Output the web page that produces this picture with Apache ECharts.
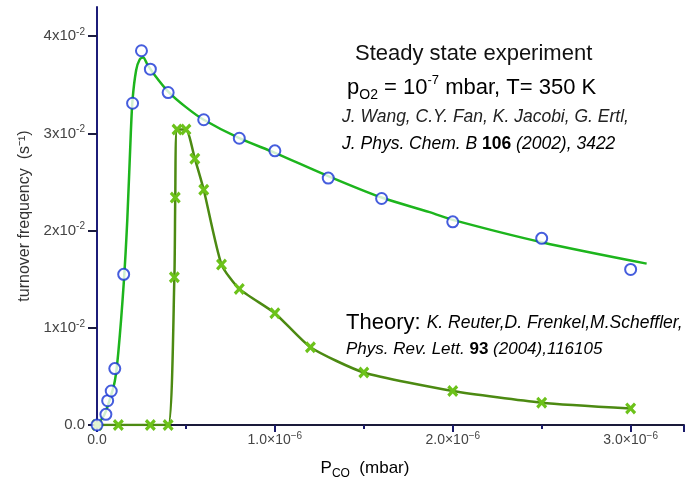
<!DOCTYPE html>
<html>
<head>
<meta charset="utf-8">
<script src="https://cdn.jsdelivr.net/npm/echarts@6/dist/echarts.min.js"></script>
<style>html,body{margin:0;padding:0;background:#fff}#c{width:689px;height:486px}</style>
</head>
<body>
<div id="c"></div>
<script>
// Experiment data points (P_CO in mbar, TOF in s^-1)
const expX = [0, 0.05e-6, 0.06e-6, 0.08e-6, 0.1e-6, 0.15e-6, 0.2e-6, 0.25e-6, 0.3e-6, 0.4e-6, 0.6e-6, 0.8e-6, 1.0e-6, 1.3e-6, 1.6e-6, 2.0e-6, 2.5e-6, 3.0e-6];
const expY = [0, 0.0011, 0.0025, 0.0035, 0.0058, 0.0155, 0.0331, 0.0385, 0.0366, 0.0342, 0.0314, 0.0295, 0.0282, 0.0254, 0.0233, 0.0209, 0.0192, 0.0160];
// Fit curve through experiment
const fitX = [0, 0.04e-6, 0.07e-6, 0.1e-6, 0.12e-6, 0.15e-6, 0.17e-6, 0.19e-6, 0.2e-6, 0.22e-6, 0.24e-6, 0.26e-6, 0.28e-6, 0.32e-6, 0.4e-6, 0.5e-6, 0.6e-6, 0.8e-6, 1.0e-6, 1.3e-6, 1.6e-6, 1.87e-6, 2.0e-6, 2.5e-6, 3.09e-6];
const fitY = [0, 0.001, 0.0025, 0.0045, 0.0075, 0.0145, 0.021, 0.030, 0.0335, 0.0365, 0.0376, 0.0378, 0.0372, 0.0361, 0.0343, 0.0327, 0.0314, 0.0295, 0.0280, 0.0256, 0.0234, 0.0219, 0.0211, 0.0188, 0.0166];
// Theory (kMC) points
const thX = [0, 0.12e-6, 0.3e-6, 0.4e-6, 0.435e-6, 0.44e-6, 0.45e-6, 0.5e-6, 0.55e-6, 0.6e-6, 0.7e-6, 0.8e-6, 1.0e-6, 1.2e-6, 1.5e-6, 2.0e-6, 2.5e-6, 3.0e-6];
const thY = [0, 0, 0, 0, 0.0152, 0.0234, 0.0304, 0.0304, 0.0274, 0.0242, 0.0165, 0.0140, 0.0115, 0.0080, 0.0054, 0.0035, 0.0023, 0.0017];
// Tick labels
const yTickLabels = {0: '0.0', 1: '1x10', 2: '2x10', 3: '3x10', 4: '4x10'};
const xTickLabels = {0: '0.0', 1: '1.0×10', 2: '2.0×10', 3: '3.0×10'};

const FONT = '"Liberation Sans", Arial, Helvetica, sans-serif';
const zip = (a, b) => a.map((v, i) => [v, b[i]]);
const XSYM = 'path://M0,2 L2,0 L5,3 L8,0 L10,2 L7,5 L10,8 L8,10 L5,7 L2,10 L0,8 L3,5 Z';

const chart = echarts.init(document.getElementById('c'), null, {renderer: 'canvas'});
chart.setOption({
  animation: false,
  backgroundColor: '#fff',
  grid: {left: 97, right: 5, top: 7, bottom: 61, containLabel: false},
  xAxis: {
    type: 'value', min: 0, max: 3.3e-6, interval: 1e-6,
    axisLine: {show: true, onZero: false, lineStyle: {color: '#1a1a3a', width: 2}},
    axisTick: {show: true, inside: false, length: 7, lineStyle: {color: '#1a1a6a', width: 2}},
    minorTick: {show: true, splitNumber: 2, length: 4, lineStyle: {color: '#1a1a6a', width: 2}},
    splitLine: {show: false},
    axisLabel: {
      showMaxLabel: false, margin: 6, fontFamily: FONT, fontSize: 14, color: '#444',
      formatter: v => {
        const k = Math.round(v / 1e-6);
        if (k === 0) return '{a|0.0}';
        return '{a|' + xTickLabels[k] + '}{s|−6}';
      },
      rich: {
        a: {fontFamily: FONT, fontSize: 14, color: '#444', lineHeight: 18, verticalAlign: 'middle'},
        s: {fontFamily: FONT, fontSize: 10, color: '#444', lineHeight: 11, verticalAlign: 'top'}
      }
    }
  },
  yAxis: {
    type: 'value', min: 0, max: 0.043, interval: 0.01,
    axisLine: {show: true, lineStyle: {color: '#1c1c78', width: 2}},
    axisTick: {show: true, inside: false, length: 9, lineStyle: {color: '#1c1c40', width: 2}},
    splitLine: {show: false},
    name: 'turnover frequency  (s⁻¹)', nameLocation: 'middle', nameGap: 64, nameRotate: 90,
    nameTextStyle: {fontFamily: FONT, fontSize: 16, color: '#333'},
    axisLabel: {
      showMaxLabel: false, margin: 12, fontFamily: FONT, fontSize: 15, color: '#444',
      formatter: v => {
        const k = Math.round(v * 100);
        if (k === 0) return '{a|0.0}';
        return '{a|' + yTickLabels[k] + '}{s|-2}';
      },
      rich: {
        a: {fontFamily: FONT, fontSize: 15, color: '#444', lineHeight: 18, verticalAlign: 'middle'},
        s: {fontFamily: FONT, fontSize: 10, color: '#444', lineHeight: 11, verticalAlign: 'top'}
      }
    }
  },
  series: [
    {
      name: 'fit', type: 'line', data: zip(fitX, fitY), smooth: 0.3,
      showSymbol: false, symbol: 'none', lineStyle: {color: '#1db51d', width: 2.5}, z: 2
    },
    {
      name: 'theory', type: 'line', data: zip(thX, thY), smooth: 0.2,
      symbol: XSYM, symbolSize: [11, 12], showAllSymbol: true,
      lineStyle: {color: '#4c8a12', width: 2.5},
      itemStyle: {color: '#6cc21a'}, z: 3
    },
    {
      name: 'experiment', type: 'scatter', data: zip(expX, expY),
      symbol: 'circle', symbolSize: 11,
      itemStyle: {color: '#ffffff', borderColor: '#1634d4', borderWidth: 2}, z: 4
    }
  ],
  graphic: [
    {type: 'text', x: 355, y: 54, style: {text: 'Steady state experiment', font: '22px ' + FONT, fill: '#111', textVerticalAlign: 'middle'}},
    {type: 'text', x: 347, y: 88, style: {
      text: '{a|p}{b|O2}{a| = 10}{c|-7}{a| mbar, T= 350 K}', textVerticalAlign: 'middle',
      rich: {
        a: {fontFamily: FONT, fontSize: 22, color: '#111', lineHeight: 28, verticalAlign: 'middle'},
        b: {fontFamily: FONT, fontSize: 14, color: '#111', lineHeight: 14, verticalAlign: 'bottom'},
        c: {fontFamily: FONT, fontSize: 13, color: '#111', lineHeight: 14, verticalAlign: 'top'}
      }
    }},
    {type: 'text', x: 342, y: 117, style: {text: 'J. Wang, C.Y. Fan, K. Jacobi, G. Ertl,', font: 'italic 17.5px ' + FONT, fill: '#222', textVerticalAlign: 'middle'}},
    {type: 'text', x: 342, y: 144, style: {
      text: '{i|J. Phys. Chem. B }{b|106}{i| (2002), 3422}', textVerticalAlign: 'middle',
      rich: {
        i: {fontFamily: FONT, fontStyle: 'italic', fontSize: 17.5, color: '#222'},
        b: {fontFamily: FONT, fontWeight: 'bold', fontSize: 17.5, color: '#222'}
      }
    }},
    {type: 'text', x: 346, y: 323, style: {
      text: '{t|Theory: }{i|K. Reuter,D. Frenkel,M.Scheffler,}', textVerticalAlign: 'middle',
      rich: {
        t: {fontFamily: FONT, fontSize: 22, color: '#111', lineHeight: 26},
        i: {fontFamily: FONT, fontStyle: 'italic', fontSize: 17.5, color: '#222', lineHeight: 26}
      }
    }},
    {type: 'text', x: 346, y: 349, style: {
      text: '{i|Phys. Rev. Lett. }{b|93}{i| (2004),116105}', textVerticalAlign: 'middle',
      rich: {
        i: {fontFamily: FONT, fontStyle: 'italic', fontSize: 17, color: '#222'},
        b: {fontFamily: FONT, fontWeight: 'bold', fontSize: 17, color: '#222'}
      }
    }},
    {type: 'text', x: 365, y: 468, style: {
      text: '{a|P}{b|CO}{a|  (mbar)}', textAlign: 'center', textVerticalAlign: 'middle',
      rich: {
        a: {fontFamily: FONT, fontSize: 17, color: '#333', lineHeight: 24, verticalAlign: 'middle'},
        b: {fontFamily: FONT, fontSize: 12, color: '#333', lineHeight: 13, verticalAlign: 'bottom'}
      }
    }}
  ]
});
</script>
</body>
</html>
